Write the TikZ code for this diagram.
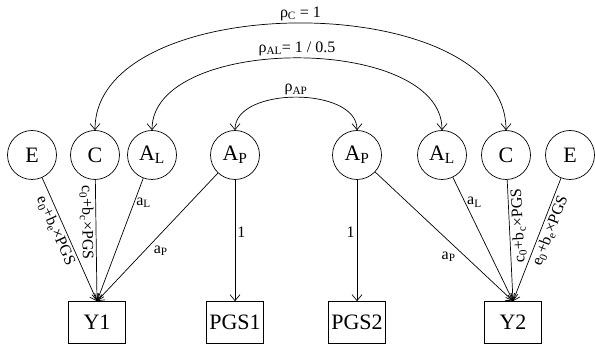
\documentclass[tikz,border=0pt]{standalone}
\usepackage{fontspec}
\setmainfont{Liberation Serif}
\usetikzlibrary{arrows.meta}

\begin{document}
\begin{tikzpicture}[x=1pt,y=1pt,>={Straight Barb[length=6pt,width=10pt]},
  font=\fontsize{22}{26}\selectfont,line width=.7pt,
  lat/.style={circle,draw,minimum size=49pt,inner sep=0pt},
  obs/.style={draw,minimum width=57pt,minimum height=42pt,inner sep=0pt},
  lbl/.style={font=\fontsize{16}{18}\selectfont,inner sep=2pt}]
 \useasboundingbox (0,0) rectangle (595,348);
 % latent factors, twin 1 and twin 2
 \foreach \nm/\x/\t in {El/32/E,Cl/95/C,ALl/152/A\textsubscript{L},APl/235/A\textsubscript{P},
   APr/357/A\textsubscript{P},ALr/442/A\textsubscript{L},Cr/506/C,Er/570/E}
   \node[lat] (\nm) at (\x,193) {\t};
 % observed
 \foreach \nm/\x in {Y1/97,PGS1/235,PGS2/357,Y2/513}
   \node[obs] (\nm) at (\x,25.5) {\nm};
 % paths twin 1
 \draw[->] (El) -- node[lbl,sloped,below,pos=.4] {e\textsubscript{0}+b\textsubscript{e}×PGS} (Y1.north);
 \draw[->] (Cl) -- node[lbl,sloped,below,pos=.35] {c\textsubscript{0}+b\textsubscript{c}×PGS} (Y1.north);
 \draw[->] (ALl) -- node[lbl,pos=.2,right] {a\textsubscript{L}} (Y1.north);
 \draw[->] (APl) -- node[lbl,pos=.55,below right] {a\textsubscript{P}} (Y1.north);
 \draw[->] (APl) -- node[lbl,pos=.43,right] {1} (PGS1);
 % paths twin 2
 \draw[->] (APr) -- node[lbl,pos=.43,left] {1} (PGS2);
 \draw[->] (APr) -- node[lbl,pos=.6,below left] {a\textsubscript{P}} (Y2.north);
 \draw[->] (ALr) -- node[lbl,pos=.2,right] {a\textsubscript{L}} (Y2.north);
 \draw[<-] (Y2.north) -- node[lbl,sloped,allow upside down,below,pos=.62] {c\textsubscript{0}+b\textsubscript{c}×PGS} (Cr);
 \draw[->] (Er) -- node[lbl,sloped,below,pos=.4] {e\textsubscript{0}+b\textsubscript{e}×PGS} (Y2.north);
 % correlations
 \draw[<->] (Cl) to[out=90,in=90,looseness=.89] node[lbl,above] {ρ\textsubscript{C} = 1} (Cr);
 \draw[<->] (ALl) to[out=90,in=90,looseness=.85] node[lbl,above] {ρ\textsubscript{AL}= 1 / 0.5} (ALr);
 \draw[<->] (APl) to[out=90,in=90,looseness=.92] node[lbl,above] {ρ\textsubscript{AP}} (APr);
\end{tikzpicture}
\end{document}
